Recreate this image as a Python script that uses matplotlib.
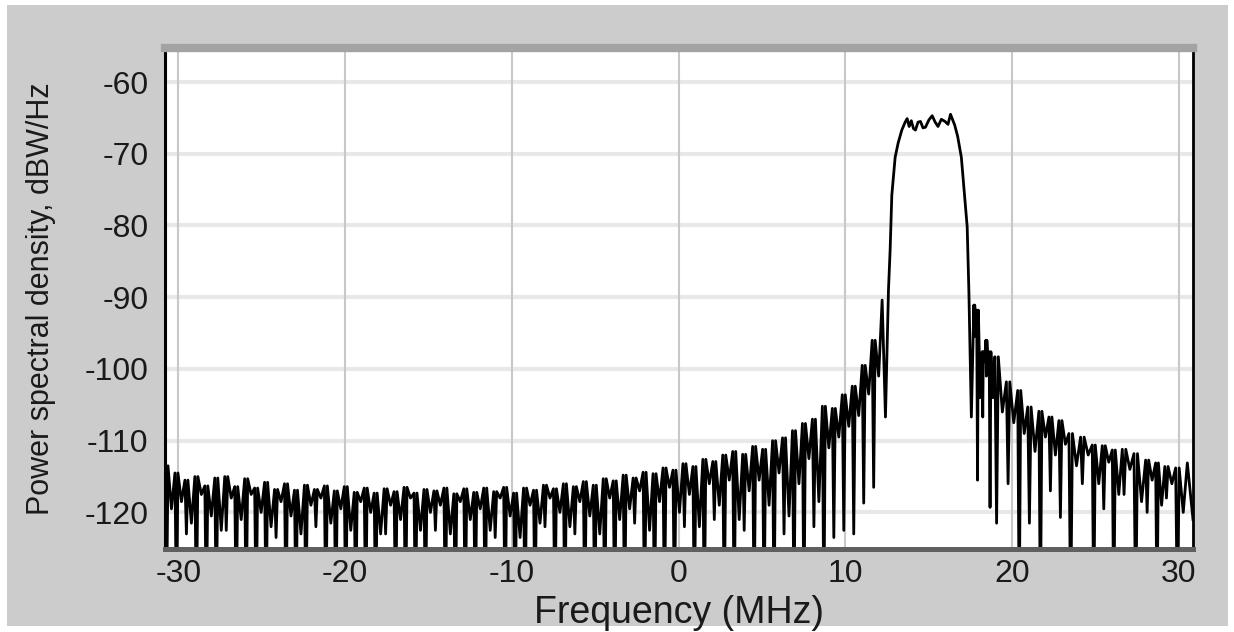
import numpy as np
import matplotlib
matplotlib.use("Agg")
import matplotlib.pyplot as plt
from matplotlib.patches import Rectangle

plt.rcParams["font.family"] = ["Liberation Sans", "DejaVu Sans"]
plt.rcParams["axes.unicode_minus"] = False

CLIP = -135.0  # nulls that fall below the bottom of the plot

# lower sideband: sidelobe tops from the left edge up to the main lobe
left_peak_db = [
    -113.5, -114.5, -115.5, -115.0, -116.3, -115.2, -115.0, -116.4, -115.3, -116.6,
    -115.8, -116.8, -116.0, -116.9, -116.2, -116.8, -116.3, -117.0, -116.4, -117.2,
    -116.6, -117.3, -116.7, -117.1, -116.5, -117.3, -116.8, -117.0, -116.6, -117.4,
    -116.7, -117.2, -116.6, -117.1, -116.5, -117.3, -116.6, -116.9, -116.2, -116.7,
    -116.0, -116.4, -115.7, -116.2, -115.3, -115.6, -114.8, -115.2, -114.4, -114.6,
    -113.8, -114.1, -113.2, -113.6, -112.6, -112.9, -112.0, -111.5, -111.9, -110.8,
    -111.2, -110.0, -109.6, -108.6, -107.6, -107.0, -105.2, -105.5, -103.6, -102.4,
    -99.5, -96.0, -90.4,
]
# deep nulls after each lower-sideband top
left_null_db = [
    CLIP, CLIP, -123.0, CLIP, CLIP, CLIP, -122.5, CLIP, CLIP, CLIP,
    CLIP, -123.5, CLIP, CLIP, CLIP, -122.0, CLIP, CLIP, CLIP, CLIP,
    CLIP, CLIP, -123.0, CLIP, CLIP, CLIP, CLIP, -122.5, CLIP, CLIP,
    CLIP, CLIP, CLIP, -123.5, CLIP, CLIP, CLIP, CLIP, -122.0, CLIP,
    CLIP, -123.0, CLIP, CLIP, CLIP, CLIP, CLIP, -121.5, CLIP, CLIP,
    CLIP, CLIP, -122.0, CLIP, CLIP, -121.0, CLIP, CLIP, -122.5, CLIP,
    CLIP, CLIP, -123.0, CLIP, CLIP, -122.0, CLIP, -123.5, -122.5, -123.0,
    -118.7, -116.5,
]
# shallow dips inside each lower-sideband lobe
left_dip_db = [
    -119.5, -118.5, -121.5, -117.5, -120.5, -122.5, -118.0, -121.0, -117.5, -120.0,
    -122.0, -118.5, -120.5, -123.0, -119.0, -118.0, -121.5, -119.5, -122.5, -118.5,
    -120.0, -123.0, -119.0, -121.0, -118.0, -122.5, -120.0, -119.0, -123.0, -118.5,
    -121.0, -119.5, -122.5, -118.0, -120.5, -123.5, -119.0, -121.5, -118.0, -120.0,
    -122.0, -118.5, -120.5, -123.0, -118.0, -121.0, -119.5, -117.0, -122.5, -118.5,
    -116.5, -120.0, -117.5, -122.0, -116.0, -119.0, -115.5, -121.0, -117.0, -115.5,
    -119.0, -114.5, -120.5, -116.0, -112.5, -118.5, -111.0, -109.5, -108.0, -106.5,
    -103.5, -101.0,
]
left_start_mhz, left_stop_mhz = -30.8, 12.2

# main lobe (signal band)
lobe_mhz = [12.40, 12.58, 12.68, 12.78, 12.98, 13.16, 13.38, 13.58, 13.70, 13.82,
            13.95, 14.08, 14.20, 14.35, 14.50, 14.65, 14.80, 15.00, 15.20, 15.38,
            15.55, 15.75, 15.97, 16.15, 16.30, 16.55, 16.73, 16.95, 17.10, 17.30,
            17.40, 17.45, 17.55]
lobe_db = [-106.7, -89.0, -83.4, -75.8, -70.5, -68.5, -66.7, -65.6, -65.1, -66.2,
           -65.4, -66.5, -66.7, -65.6, -65.5, -66.4, -66.3, -65.3, -64.7, -65.6,
           -66.2, -65.2, -65.5, -65.9, -64.5, -66.0, -67.6, -70.5, -74.6, -80.2,
           -89.0, -95.0, -106.7]

# upper sideband
right_peak_mhz = [17.70, 17.87, 18.20, 18.42, 18.62, 18.96, 19.65, 20.33, 20.93, 21.60,
                  22.20, 22.80, 23.40, 24.10, 24.80, 25.40, 26.00, 26.60, 27.30, 28.00,
                  28.60, 29.15, 29.80, 30.50]
right_peak_db = [-91.1, -91.8, -97.6, -96.0, -97.6, -98.3, -101.8, -103.0, -105.3, -105.9,
                 -106.7, -107.2, -109.0, -109.5, -110.6, -110.7, -111.3, -111.2, -111.8, -112.7,
                 -113.1, -113.6, -113.8, -113.1]
right_null_db = [-95.5, -115.5, -106.7, -101.0, -119.3, -121.5, -116.0, CLIP, -121.5, CLIP,
                 -117.0, -120.7, CLIP, -116.0, CLIP, -119.5, CLIP, -117.5, CLIP, -120.0,
                 CLIP, -118.0, CLIP]
right_dip_db = [-93.0, -104.0, -99.0, -99.0, -104.0, -106.0, -107.5, -109.0, -111.5, -109.5,
                -112.0, -110.5, -113.5, -112.0, -116.0, -113.0, -117.5, -114.0, -118.5, -115.5,
                -119.0, -116.0, -120.0]
right_end_mhz, right_end_db = 30.84, -121.0

x_ticks = [-30, -20, -10, 0, 10, 20, 30]
y_ticks = [-60, -70, -80, -90, -100, -110, -120]

# where, as a fraction of one sidelobe cycle, the null and the lobe dip sit
NULL_AT, NULL_BACK, DIP_AT = 0.15, 0.30, 0.65


def sidelobes(peak_f, peak_v, null_v, dip_v):
    """Each cycle: top, narrow null, back to the top, shallow dip, next top."""
    peak_f = np.asarray(peak_f, float)
    f, v = [], []
    for i in range(len(peak_f) - 1):
        f0, step = peak_f[i], peak_f[i + 1] - peak_f[i]
        f += [f0, f0 + NULL_AT * step, f0 + NULL_BACK * step, f0 + DIP_AT * step]
        v += [peak_v[i], null_v[i], peak_v[i], dip_v[i]]
    f.append(peak_f[-1])
    v.append(peak_v[-1])
    return np.array(f), np.array(v)


left_f, left_v = sidelobes(np.linspace(left_start_mhz, left_stop_mhz, len(left_peak_db)),
                           left_peak_db, left_null_db, left_dip_db)
right_f, right_v = sidelobes(right_peak_mhz, right_peak_db, right_null_db, right_dip_db)

freq = np.concatenate([left_f, lobe_mhz, right_f, [right_end_mhz]])
psd = np.concatenate([left_v, lobe_db, right_v, [right_end_db]])

fig = plt.figure(figsize=(12.34, 6.32), dpi=100, facecolor="white")
fig.patches.append(Rectangle((7 / 1234, 6 / 632), 1221 / 1234, 621 / 632,
                             transform=fig.transFigure, facecolor="#cccccc",
                             edgecolor="none", zorder=-10))

ax = fig.add_axes([165 / 1234, 83 / 632, 1028 / 1234, 501 / 632])
ax.set_facecolor("white")

for yv in y_ticks:
    ax.axhline(yv, color="#e8e8e8", lw=3.0, zorder=1)
for xv in x_ticks:
    ax.axvline(xv, color="#c8c8c8", lw=1.5, zorder=2)

ax.plot(freq, psd, color="black", lw=2.0, zorder=3)

ax.set_xlim(-30.8, 30.84)
ax.set_ylim(-125.1, -55.26)
ax.set_xticks(x_ticks)
ax.set_yticks(y_ticks)
ax.tick_params(length=0, labelsize=23, labelcolor="#1a1a1a")
ax.tick_params(axis="y", pad=12)
ax.tick_params(axis="x", pad=7)

ax.spines["left"].set_color("black")
ax.spines["left"].set_linewidth(2.2)
ax.spines["right"].set_color("black")
ax.spines["right"].set_linewidth(2.0)
ax.spines["top"].set_color("#a3a3a3")
ax.spines["top"].set_linewidth(6.0)
ax.spines["bottom"].set_color("#606060")
ax.spines["bottom"].set_linewidth(3.6)
for sp in ax.spines.values():
    sp.set_zorder(4)

ax.set_xlabel("Frequency (MHz)", fontsize=27, color="#1a1a1a")
ax.xaxis.set_label_coords(0.5, -0.092)
ax.set_ylabel("Power spectral density, dBW/Hz", fontsize=22, color="#1a1a1a")
ax.yaxis.set_label_coords(-0.106, 0.5)

fig.savefig("out.png", dpi=100, facecolor=fig.get_facecolor())
